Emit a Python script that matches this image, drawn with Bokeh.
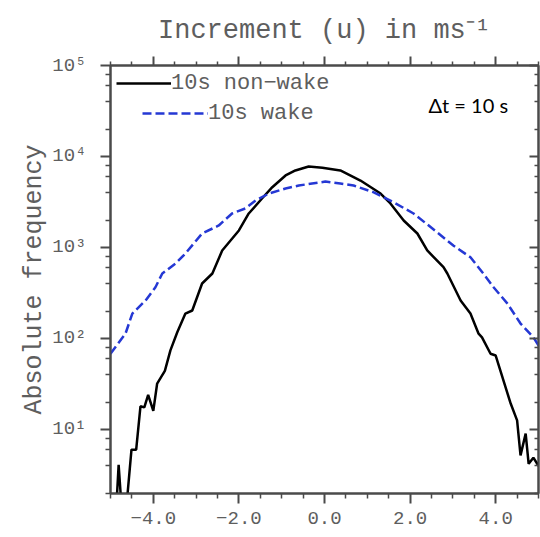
import numpy as np
from bokeh.plotting import figure
from bokeh.models import (LogAxis, LinearAxis, FixedTicker, Legend, LegendItem,
                          Label, CustomJSTickFormatter, Range1d)
from bokeh.embed import file_html
from bokeh.resources import INLINE

# ---- data (increment in m/s, absolute frequency) ----
nonwake_x = [-5.00, -4.88, -4.81, -4.72, -4.60, -4.51, -4.40, -4.30, -4.21, -4.12,
             -4.00, -3.91, -3.73, -3.60, -3.44, -3.25, -3.09, -2.86, -2.62, -2.39,
             -2.00, -1.77, -1.46, -1.22, -0.91, -0.68, -0.37, -0.05, 0.37, 0.84,
             1.31, 1.54, 1.85, 2.17, 2.40, 2.78, 2.87, 3.18, 3.41, 3.60,
             3.68, 3.88, 4.00, 4.35, 4.50, 4.58, 4.70, 4.77, 4.88, 4.97, 5.00]
nonwake_count = [1, 1, 4.1, 1, 2, 6.0, 6.0, 18, 17.5, 24,
                 16, 32, 44, 74, 117, 188, 203, 402, 518, 927,
                 1538, 2365, 3453, 4600, 6186, 7020, 7770, 7515, 7020, 5445,
                 3917, 3046, 1980, 1425, 927, 608, 518, 262, 188, 113,
                 103, 68, 65, 19.3, 12.6, 5.2, 9.0, 4.2, 4.9, 4.2, 4.0]

wake_x = [-5.00, -4.65, -4.49, -4.18, -3.95, -3.79, -3.48, -3.25, -2.86, -2.47,
          -2.16, -1.85, -1.61, -1.30, -0.91, -0.60, -0.29, 0.02, 0.37, 0.68,
          1.14, 1.61, 2.08, 2.63, 3.01, 3.41, 3.71, 3.95, 4.27, 4.58,
          4.88, 5.00]
wake_count = [68, 113, 188, 262, 366, 518, 667, 859, 1425, 1746,
              2365, 2685, 3283, 3917, 4450, 4800, 5050, 5300, 5050, 4800,
              4055, 3147, 2365, 1472, 1051, 781, 518, 366, 243, 146,
              103, 84]

series_labels = ["10s non\u2212wake", "10s wake"]

x_ticks = [-4, -2, 0, 2, 4]
x_tick_labels = ["\u22124.0", "\u22122.0", "0.0", "2.0", "4.0"]
y_ticks = [10, 100, 1000, 10000, 100000]
y_tick_labels = ["10\u00b9", "10\u00b2", "10\u00b3", "10\u2074", "10\u2075"]

title_text = "Increment (u) in ms\u207b\u00b9"
y_label = "Absolute frequency"
note_text = "\u0394t = 10 s"

# ---- styling ----
FONT = "Liberation Mono"
GREY_TXT = "#5e5e5e"
AX_COL = "#4a4a4a"
BLUE = "#2538d4"

x_minor = [v for v in np.arange(-5, 5.01, 0.5) if v not in x_ticks]
y_minor = [m * 10 ** k for k in range(0, 5) for m in (2, 4, 6, 8)]

p = figure(width=540, height=537, y_axis_type="log",
           x_range=Range1d(-5, 5), y_range=Range1d(1.98, 1e5),
           output_backend="svg", toolbar_location=None,
           min_border_left=110, min_border_right=2,
           min_border_top=65, min_border_bottom=44)

p.xgrid.visible = False
p.ygrid.visible = False
p.outline_line_color = AX_COL
p.outline_line_width = 2

r1 = p.line(nonwake_x, nonwake_count, line_color="black", line_width=2.5)
r2 = p.line(wake_x, wake_count, line_color=BLUE, line_width=2.5, line_dash="9 4")

# title
p.title.text = title_text
p.title.align = "center"
p.title.text_font = FONT
p.title.text_font_style = "normal"
p.title.text_font_size = "27px"
p.title.text_color = GREY_TXT
p.title.standoff = 21

def style_axis(ax):
    ax.axis_line_color = AX_COL
    ax.axis_line_width = 2
    ax.major_tick_line_color = AX_COL
    ax.minor_tick_line_color = AX_COL
    ax.major_tick_line_width = 2
    ax.minor_tick_line_width = 1.5
    ax.major_label_text_font = FONT
    ax.major_label_text_color = GREY_TXT
    ax.major_label_text_font_size = "19px"

xticker = FixedTicker(ticks=x_ticks, minor_ticks=x_minor)
yticker = FixedTicker(ticks=y_ticks, minor_ticks=y_minor)

# bottom axis
xa = p.xaxis[0]
xa.ticker = xticker
xa.major_label_overrides = dict(zip(x_ticks, x_tick_labels))
style_axis(xa)
xa.major_tick_out = 10
xa.major_tick_in = 0
xa.minor_tick_out = 5
xa.minor_tick_in = 0
xa.major_label_standoff = 8

# left axis
ya = p.yaxis[0]
ya.ticker = yticker
ya.major_label_overrides = dict(zip(y_ticks, y_tick_labels))
style_axis(ya)
ya.major_tick_out = 10
ya.major_tick_in = 0
ya.minor_tick_out = 5
ya.minor_tick_in = 0
ya.major_label_standoff = 14
ya.axis_label = y_label
ya.axis_label_text_font = FONT
ya.axis_label_text_font_style = "normal"
ya.axis_label_text_font_size = "25px"
ya.axis_label_text_color = GREY_TXT
ya.axis_label_standoff = 0

empty = CustomJSTickFormatter(code="return '';")

# top axis
ta = LinearAxis(ticker=xticker, formatter=empty)
style_axis(ta)
ta.major_tick_out = 9
ta.major_tick_in = 0
ta.minor_tick_out = 4
ta.minor_tick_in = 0
ta.major_label_standoff = 0
p.add_layout(ta, "above")

# right axis (ticks inside)
ra = LogAxis(ticker=yticker, formatter=empty)
style_axis(ra)
ra.major_tick_out = 0
ra.major_tick_in = 9
ra.minor_tick_out = 0
ra.minor_tick_in = 4
ra.major_label_standoff = 0
p.add_layout(ra, "right")

def make_legend(label, renderer, loc, gw):
    return Legend(items=[LegendItem(label=label, renderers=[renderer])],
                  location=loc, orientation="vertical",
                  border_line_color=None, background_fill_alpha=0,
                  padding=0, margin=0, spacing=0,
                  glyph_width=gw, glyph_height=26, label_height=26,
                  label_standoff=0,
                  label_text_font=FONT, label_text_font_size="22px",
                  label_text_color=GREY_TXT)

p.add_layout(make_legend(series_labels[0], r1, (6, 397), 55))
p.add_layout(make_legend(series_labels[1], r2, (32, 367), 66))

p.add_layout(Label(x=318, y=389, x_units="screen", y_units="screen",
                   text=note_text, text_font="Lato", text_font_size="20px",
                   text_color="black", text_baseline="middle"))

open("out.html", "w").write(file_html(p, INLINE))
